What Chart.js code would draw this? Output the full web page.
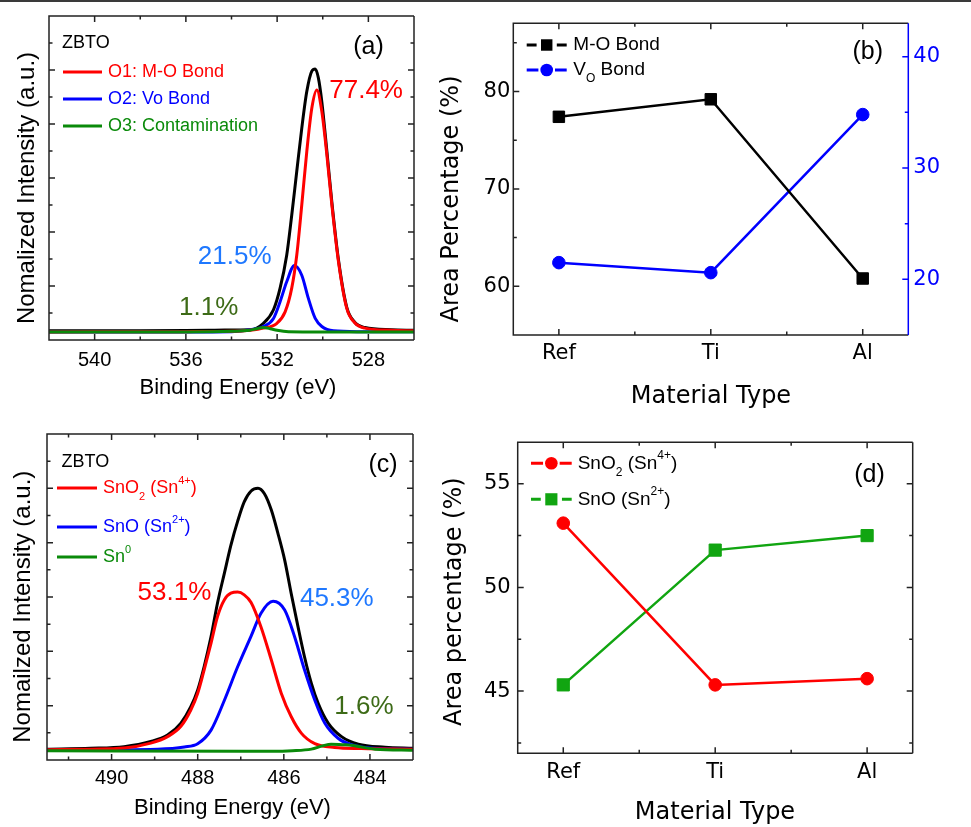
<!DOCTYPE html>
<html>
<head>
<meta charset="utf-8">
<script src="https://cdn.jsdelivr.net/npm/chart.js@4.4.1/dist/chart.umd.min.js"></script>
<style>
  html, body { margin: 0; padding: 0; background: #fff; }
  body { width: 971px; height: 827px; position: relative; overflow: hidden; }
  canvas { position: absolute; }
  #topline { position: absolute; left: 0; top: 0; width: 971px; height: 2px; background: #3a3a3a; z-index: 5; }
</style>
</head>
<body>
<canvas id="pa" width="420" height="410" style="left:0;top:0;width:420px;height:410px"></canvas>
<canvas id="pb" width="551" height="410" style="left:420px;top:0;width:551px;height:410px"></canvas>
<canvas id="pc" width="420" height="417" style="left:0;top:410px;width:420px;height:417px"></canvas>
<canvas id="pd" width="551" height="417" style="left:420px;top:410px;width:551px;height:417px"></canvas>
<div id="topline"></div>
<script>
// ---- (a) O 1s spectrum (binding energy eV / normalized intensity)
const A_TICKS = [540, 536, 532, 528];
const A_SUM_E = [542, 538, 536, 535, 534.3, 533.18, 532.6, 532.16, 531.87, 531.58, 531.36, 531.14, 530.92, 530.7, 530.48, 530.33, 530.19, 530.04, 529.82, 529.6, 529.31, 528.95, 528.6, 528.15, 527, 526];
const A_SUM = [0.17, 0.17, 0.175, 0.18, 0.185, 0.19, 0.31, 0.56, 0.96, 1.57, 2.31, 3.12, 3.92, 4.6, 4.98, 5.02, 4.85, 4.41, 3.5, 2.55, 1.48, 0.61, 0.33, 0.23, 0.19, 0.18];
const A_O1_E = [542, 536, 534, 533.2, 532.6, 532.01, 531.65, 531.36, 531.14, 530.92, 530.7, 530.48, 530.26, 530.04, 529.82, 529.6, 529.31, 528.95, 528.6, 528.15, 527, 526];
const A_O1 = [0.15, 0.155, 0.16, 0.18, 0.22, 0.31, 0.52, 0.96, 1.57, 2.5, 3.49, 4.29, 4.63, 4.23, 3.43, 2.5, 1.45, 0.59, 0.32, 0.22, 0.18, 0.17];
const A_O2_E = [542, 536, 534, 533.18, 532.6, 532.16, 531.87, 531.58, 531.24, 530.92, 530.63, 530.33, 530.04, 529.53, 528.5, 526];
const A_O2 = [0.15, 0.15, 0.155, 0.19, 0.25, 0.4, 0.71, 1.08, 1.38, 1.2, 0.77, 0.4, 0.25, 0.17, 0.155, 0.155];
const A_O3_E = [542, 536, 534, 533.2, 532.9, 532.6, 532.3, 532.0, 531.5, 530, 526];
const A_O3 = [0.15, 0.15, 0.16, 0.18, 0.21, 0.23, 0.21, 0.18, 0.155, 0.15, 0.15];

// ---- (c) Sn 3d spectrum
const C_TICKS = [490, 488, 486, 484];
const C_SUM_E = [491.5, 490.49, 489.71, 489.09, 488.7, 488.39, 488.16, 488.0, 487.85, 487.69, 487.54, 487.38, 487.23, 487.07, 486.92, 486.76, 486.6, 486.45, 486.29, 486.14, 485.98, 485.83, 485.67, 485.52, 485.36, 485.2, 484.97, 484.66, 484.27, 483.65, 483];
const C_SUM = [0.2, 0.215, 0.245, 0.34, 0.46, 0.68, 0.98, 1.29, 1.72, 2.27, 2.89, 3.44, 3.95, 4.4, 4.75, 4.95, 5.0, 4.9, 4.6, 4.18, 3.68, 3.07, 2.45, 1.9, 1.41, 1.04, 0.68, 0.43, 0.29, 0.235, 0.215];
const C_SNO2_E = [491.5, 490.49, 489.71, 489.09, 488.7, 488.39, 488.16, 488.0, 487.85, 487.69, 487.54, 487.38, 487.23, 487.07, 486.92, 486.76, 486.53, 486.29, 486.06, 485.83, 485.59, 485.28, 484.82, 484.2, 483];
const C_SNO2 = [0.19, 0.2, 0.22, 0.31, 0.43, 0.62, 0.92, 1.23, 1.66, 2.15, 2.64, 2.95, 3.07, 3.09, 3.04, 2.9, 2.45, 1.84, 1.23, 0.8, 0.49, 0.3, 0.23, 0.21, 0.2];
const C_SNO_E = [491.5, 488.93, 488.31, 488.0, 487.69, 487.38, 487.07, 486.76, 486.53, 486.25, 485.98, 485.75, 485.52, 485.28, 485.05, 484.74, 484.43, 483.81, 483];
const C_SNO = [0.18, 0.2, 0.24, 0.3, 0.55, 1.1, 1.72, 2.28, 2.7, 2.92, 2.76, 2.27, 1.66, 1.1, 0.68, 0.4, 0.28, 0.21, 0.2];
const C_SN0_E = [491.5, 487, 486.29, 485.8, 485.36, 485.1, 484.9, 484.6, 484.43, 483.88, 483];
const C_SN0 = [0.17, 0.16, 0.16, 0.17, 0.2, 0.26, 0.29, 0.28, 0.27, 0.2, 0.18];

const INTENSITY_TICKS = [1, 2, 3, 4, 5];

// ---- (b), (d) area percentages
const MATERIALS = ['Ref', 'Ti', 'Al'];
const MO_BOND = [77.4, 79.2, 60.8];
const VO_BOND = [21.5, 20.6, 34.8];
const B_LEFT_TICKS = [60, 70, 80];
const B_RIGHT_TICKS = [20, 30, 40];
const SNO2_AREA = [53.1, 45.3, 45.6];
const SNO_AREA = [45.3, 51.8, 52.5];
const D_TICKS = [45, 50, 55];

const SANS = "'Liberation Sans', Arial, sans-serif";
const WIDE = "'DejaVu Sans', sans-serif";
const INK = '#222';
const RED = '#ff0000', BLUE = '#0000ff', GREEN = '#0a8a0a', GREEN_D = '#11a511';
const SKY = '#1f78ff', OLIVE = '#3d6b17';

Chart.defaults.font.family = SANS;
Chart.defaults.color = '#000';

const xy = (xs, ys) => xs.map((x, i) => ({ x: x, y: ys[i] }));
const setTicks = (list) => (s) => { s.ticks = list.map(v => ({ value: v })); };

function curve(color, xs, ys) {
  return { data: xy(xs, ys), borderColor: color, borderWidth: 3, pointRadius: 0,
           cubicInterpolationMode: 'monotone', fill: false };
}

function series(color, vals, style, r, axis) {
  return { data: vals.map((v, i) => ({ x: i, y: v })), yAxisID: axis || 'y',
           borderColor: color, backgroundColor: color, borderWidth: 2.5,
           pointStyle: style, pointRadius: r, pointBorderWidth: 1, pointBorderColor: color };
}

// major ticks from the scale, minors half way between
function tickSets(scale) {
  const major = scale.ticks.map(t => t.value).sort((p, q) => p - q);
  const step = major[1] - major[0];
  const lo = Math.min(scale.min, scale.max), hi = Math.max(scale.min, scale.max);
  const m = step * 0.05;
  const minor = [major[0] - step / 2].concat(major.map(v => v + step / 2))
    .filter(v => v > lo + m && v < hi - m);
  return { major, minor };
}

function drawTicks(ctx, scale, a, color, sides) {
  const sets = tickSets(scale);
  ctx.strokeStyle = color;
  ctx.beginPath();
  [[sets.major, 6], [sets.minor, 3.5]].forEach(([list, len]) => {
    list.forEach(v => {
      const p = scale.getPixelForValue(v);
      sides.forEach(side => {
        if (side === 'bottom') { ctx.moveTo(p, a.bottom); ctx.lineTo(p, a.bottom - len); }
        if (side === 'top') { ctx.moveTo(p, a.top); ctx.lineTo(p, a.top + len); }
        if (side === 'left') { ctx.moveTo(a.left, p); ctx.lineTo(a.left + len, p); }
        if (side === 'right') { ctx.moveTo(a.right, p); ctx.lineTo(a.right - len, p); }
      });
    });
  });
  ctx.stroke();
}

// text with sub (1) / superscript (-1) parts
function drawRich(ctx, parts, x, y, size, fam, color, align) {
  ctx.fillStyle = color;
  ctx.textBaseline = 'middle';
  ctx.textAlign = 'left';
  const small = Math.round(size * 0.62);
  const f = (s) => s + 'px ' + fam;
  let w = 0;
  parts.forEach(p => { ctx.font = f(p[1] ? small : size); w += ctx.measureText(p[0]).width; });
  let cx = align === 'center' ? x - w / 2 : x;
  parts.forEach(p => {
    ctx.font = f(p[1] ? small : size);
    const dy = p[1] === 1 ? size * 0.48 : p[1] === -1 ? -size * 0.4 : 0;
    ctx.fillText(p[0], cx, y + dy);
    cx += ctx.measureText(p[0]).width;
  });
}

function marker(ctx, style, x, y, r, color) {
  ctx.fillStyle = color;
  ctx.beginPath();
  if (style === 'rect') {
    const h = r * Math.SQRT1_2;
    ctx.rect(x - h, y - h, 2 * h, 2 * h);
  } else {
    ctx.arc(x, y, r, 0, Math.PI * 2);
  }
  ctx.fill();
}

const frame = {
  id: 'frame',
  afterDatasetsDraw(chart, args, o) {
    const ctx = chart.ctx, a = chart.chartArea;
    const xs = chart.scales.x, yl = chart.scales.y;
    const yr = o.right ? chart.scales[o.right] : yl;
    const rc = o.rightColor || INK;
    ctx.save();
    ctx.lineWidth = 1.5;
    drawTicks(ctx, xs, a, INK, ['bottom', 'top']);
    drawTicks(ctx, yl, a, INK, o.right ? ['left'] : ['left', 'right']);
    if (o.right) drawTicks(ctx, yr, a, rc, ['right']);
    ctx.strokeStyle = INK;
    ctx.beginPath();
    ctx.moveTo(a.right, a.top); ctx.lineTo(a.left, a.top);
    ctx.lineTo(a.left, a.bottom); ctx.lineTo(a.right, a.bottom);
    ctx.stroke();
    ctx.strokeStyle = rc;
    ctx.beginPath();
    ctx.moveTo(a.right, a.top); ctx.lineTo(a.right, a.bottom);
    ctx.stroke();
    ctx.restore();
  },
  afterDraw(chart, args, o) {
    const ctx = chart.ctx;
    ctx.save();
    (o.keys || []).forEach(k => {
      ctx.strokeStyle = k.color;
      ctx.lineWidth = k.lw || 3;
      ctx.beginPath();
      if (k.marker) {
        const mx = (k.x1 + k.x2) / 2, g = k.r + 2;
        ctx.moveTo(k.x1, k.y); ctx.lineTo(mx - g, k.y);
        ctx.moveTo(mx + g, k.y); ctx.lineTo(k.x2, k.y);
        ctx.stroke();
        marker(ctx, k.marker, mx, k.y, k.r, k.color);
      } else {
        ctx.moveTo(k.x1, k.y); ctx.lineTo(k.x2, k.y);
        ctx.stroke();
      }
      drawRich(ctx, k.parts, k.tx, k.y, k.size, SANS, k.tc || k.color, 'left');
    });
    (o.texts || []).forEach(t => {
      ctx.save();
      ctx.translate(t.x, t.y);
      if (t.rot) ctx.rotate(-Math.PI / 2);
      drawRich(ctx, t.parts, 0, 0, t.size, t.fam || SANS, t.color || '#000', t.align || 'left');
      ctx.restore();
    });
    // percentage labels placed in data coordinates
    (o.notes || []).forEach(n => {
      const px = chart.scales.x.getPixelForValue(n.x);
      const py = chart.scales.y.getPixelForValue(n.y);
      drawRich(ctx, [[n.t]], px, py, 26, SANS, n.color, 'center');
    });
    ctx.restore();
  }
};

function spectrum(id, cfg) {
  return new Chart(document.getElementById(id), {
    type: 'line',
    data: { datasets: cfg.datasets },
    options: {
      responsive: false, animation: false, devicePixelRatio: 1,
      layout: { padding: cfg.pad },
      plugins: { legend: { display: false }, tooltip: { enabled: false }, frame: cfg.frame },
      scales: {
        x: { type: 'linear', reverse: true, min: cfg.xmin, max: cfg.xmax,
             afterBuildTicks: setTicks(cfg.xticks), afterFit: (s) => { s.height = cfg.xh; },
             grid: { display: false, drawTicks: false }, border: { display: false },
             ticks: { font: { size: 20, family: SANS }, color: '#000', padding: cfg.xpad, maxRotation: 0, autoSkip: false } },
        y: { type: 'linear', min: 0, max: 6,
             afterBuildTicks: setTicks(INTENSITY_TICKS), afterFit: (s) => { s.width = cfg.yw; },
             grid: { display: false, drawTicks: false }, border: { display: false },
             ticks: { display: false } }
      }
    },
    plugins: [frame]
  });
}

function percent(id, cfg) {
  const scales = {
    x: { type: 'linear', min: -0.3, max: 2.3,
         afterBuildTicks: setTicks(MATERIALS.map((m, i) => i)), afterFit: (s) => { s.height = cfg.xh; },
         grid: { display: false, drawTicks: false }, border: { display: false },
         ticks: { font: { size: 21, family: WIDE }, color: '#000', padding: cfg.xpad, maxRotation: 0,
                  autoSkip: false, callback: (v) => MATERIALS[v] } },
    y: { type: 'linear', position: 'left', min: cfg.ymin, max: cfg.ymax,
         afterBuildTicks: setTicks(cfg.yticks), afterFit: (s) => { s.width = cfg.yw; },
         grid: { display: false, drawTicks: false }, border: { display: false },
         ticks: { font: { size: 21, family: WIDE }, color: '#000', padding: cfg.ypad } }
  };
  if (cfg.y2) scales.y2 = cfg.y2;
  return new Chart(document.getElementById(id), {
    type: 'line',
    data: { datasets: cfg.datasets },
    options: {
      responsive: false, animation: false, devicePixelRatio: 1,
      layout: { padding: cfg.pad },
      plugins: { legend: { display: false }, tooltip: { enabled: false }, frame: cfg.frame },
      scales: scales
    },
    plugins: [frame]
  });
}

// (a)
spectrum('pa', {
  datasets: [curve(GREEN, A_O3_E, A_O3), curve(RED, A_O1_E, A_O1), curve(BLUE, A_O2_E, A_O2), curve('#000', A_SUM_E, A_SUM)],
  pad: { top: 16, right: 6, left: 0, bottom: 0 },
  xmin: 526, xmax: 542, xticks: A_TICKS, xh: 70, yw: 49, xpad: 8,
  frame: {
    keys: [
      { x1: 63, x2: 102, y: 72, color: RED, tx: 108, size: 18, parts: [['O1: M-O Bond']] },
      { x1: 63, x2: 102, y: 99, color: BLUE, tx: 108, size: 18, parts: [['O2: Vo Bond']] },
      { x1: 63, x2: 102, y: 126, color: GREEN, tx: 108, size: 18, parts: [['O3: Contamination']] }
    ],
    texts: [
      { parts: [['ZBTO']], x: 62, y: 43, size: 18 },
      { parts: [['(a)']], x: 368.5, y: 47, size: 25, align: 'center' },
      { parts: [['Binding Energy (eV)']], x: 238, y: 388, size: 22, align: 'center' },
      { parts: [['Nomalized Intensity (a.u.)']], x: 27, y: 188, size: 24, align: 'center', rot: true }
    ],
    notes: [
      { t: '77.4%', x: 528.1, y: 4.61, color: RED },
      { t: '21.5%', x: 533.86, y: 1.54, color: SKY },
      { t: '1.1%', x: 535.0, y: 0.59, color: OLIVE }
    ]
  }
});

// (c)
spectrum('pc', {
  datasets: [curve(GREEN, C_SN0_E, C_SN0), curve(RED, C_SNO2_E, C_SNO2), curve(BLUE, C_SNO_E, C_SNO), curve('#000', C_SUM_E, C_SUM)],
  pad: { top: 24, right: 7, left: 0, bottom: 0 },
  xmin: 483, xmax: 491.5, xticks: C_TICKS, xh: 67, yw: 47, xpad: 6,
  frame: {
    keys: [
      { x1: 57, x2: 97, y: 78, color: RED, tx: 103, size: 18, parts: [['SnO'], ['2', 1], [' (Sn'], ['4+', -1], [')']] },
      { x1: 57, x2: 97, y: 117, color: BLUE, tx: 103, size: 18, parts: [['SnO (Sn'], ['2+', -1], [')']] },
      { x1: 57, x2: 97, y: 147, color: GREEN, tx: 103, size: 18, parts: [['Sn'], ['0', -1]] }
    ],
    texts: [
      { parts: [['ZBTO']], x: 61.5, y: 51.7, size: 18 },
      { parts: [['(c)']], x: 383, y: 55, size: 25, align: 'center' },
      { parts: [['Binding Energy (eV)']], x: 232.5, y: 398, size: 22, align: 'center' },
      { parts: [['Nomailzed Intensity (a.u.)']], x: 23, y: 196.7, size: 24, align: 'center', rot: true }
    ],
    notes: [
      { t: '53.1%', x: 488.54, y: 3.07, color: RED },
      { t: '45.3%', x: 484.77, y: 2.96, color: SKY },
      { t: '1.6%', x: 484.14, y: 0.97, color: OLIVE }
    ]
  }
});

// (b)
percent('pb', {
  datasets: [series('#000', MO_BOND, 'rect', 8.1, 'y'), series(BLUE, VO_BOND, 'circle', 6.3, 'y2')],
  pad: { top: 23.3, right: 0, left: 0, bottom: 0 },
  xh: 75, yw: 93.3, xpad: 6, ypad: 3,
  ymin: 55, ymax: 87, yticks: B_LEFT_TICKS,
  y2: { type: 'linear', position: 'right', min: 15, max: 43,
        afterBuildTicks: setTicks(B_RIGHT_TICKS), afterFit: (s) => { s.width = 62.7; },
        grid: { display: false, drawTicks: false }, border: { display: false },
        ticks: { font: { size: 21, family: WIDE }, color: BLUE, padding: 5 } },
  frame: {
    right: 'y2', rightColor: BLUE,
    keys: [
      { x1: 106.7, x2: 146.7, y: 45, color: '#000', marker: 'rect', r: 8.1, tx: 153.3, size: 19, parts: [['M-O Bond']] },
      { x1: 106.7, x2: 146.7, y: 70, color: BLUE, marker: 'circle', r: 6.3, tx: 153.3, size: 19, tc: '#000', parts: [['V'], ['O', 1], [' Bond']] }
    ],
    texts: [
      { parts: [['(b)']], x: 447.8, y: 51.7, size: 25, align: 'center' },
      { parts: [['Material Type']], x: 291, y: 397, size: 24, fam: WIDE, align: 'center' },
      { parts: [['Area Percentage (%)']], x: 32, y: 199, size: 24, fam: WIDE, align: 'center', rot: true }
    ]
  }
});

// (d)
percent('pd', {
  datasets: [series(RED, SNO2_AREA, 'circle', 6.3), series(GREEN_D, SNO_AREA, 'rect', 8.6)],
  pad: { top: 32.3, right: 58.3, left: 0, bottom: 0 },
  xh: 73.7, yw: 97.7, xpad: 7, ypad: 7,
  ymin: 42, ymax: 57, yticks: D_TICKS,
  frame: {
    keys: [
      { x1: 111, x2: 151.7, y: 53.3, color: RED, marker: 'circle', r: 6.3, tx: 157.7, size: 19, tc: '#000', parts: [['SnO'], ['2', 1], [' (Sn'], ['4+', -1], [')']] },
      { x1: 111, x2: 151.7, y: 89.3, color: GREEN_D, marker: 'rect', r: 8.6, tx: 157.7, size: 19, tc: '#000', parts: [['SnO (Sn'], ['2+', -1], [')']] }
    ],
    texts: [
      { parts: [['(d)']], x: 449.5, y: 65, size: 25, align: 'center' },
      { parts: [['Material Type']], x: 295, y: 403, size: 24, fam: WIDE, align: 'center' },
      { parts: [['Area percentage (%)']], x: 35, y: 191.7, size: 24, fam: WIDE, align: 'center', rot: true }
    ]
  }
});
</script>
</body>
</html>
